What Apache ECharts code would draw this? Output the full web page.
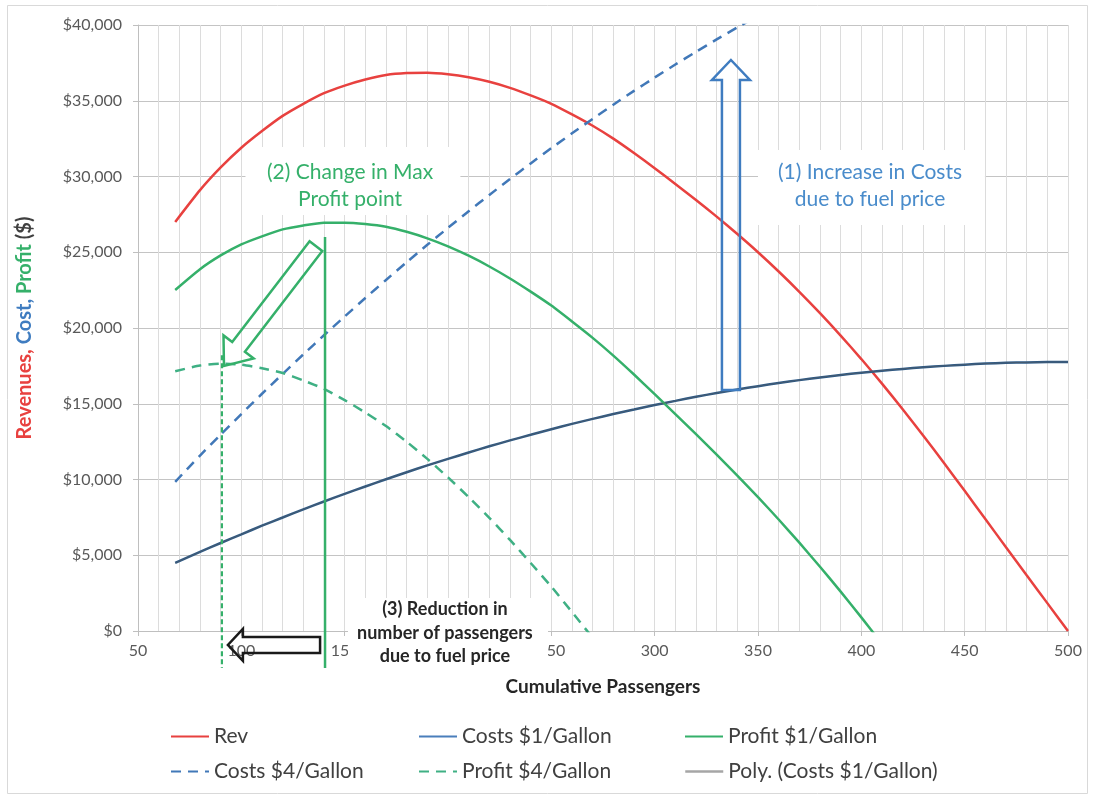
<!DOCTYPE html>
<html><head><meta charset="utf-8">
<script src="https://cdn.jsdelivr.net/npm/echarts@6/dist/echarts.min.js"></script>
<style>html,body{margin:0;padding:0;background:#fff}#c{width:1094px;height:799px}</style>
</head><body><div id="c"></div>
<script>
// ---- data ----
const passengers = [68, 80, 90, 100, 110, 120, 130, 140, 150, 160, 170, 180, 190, 200, 210, 220, 230, 240, 250, 260,
  270, 280, 290, 300, 310, 320, 330, 340, 350, 360, 370, 380, 390, 400, 410, 420, 430, 440, 450, 460, 470, 480, 490, 500];
const revenue = [27000, 29100, 30600, 31900, 33000, 34000, 34800, 35500, 36000, 36400, 36700, 36830, 36850, 36750, 36550, 36250, 35850, 35350, 34800, 34100,
  33350, 32500, 31550, 30550, 29500, 28450, 27350, 26200, 25000, 23730, 22390, 20980, 19500, 17950, 16330, 14640, 12890, 11090, 9250, 7390, 5530, 3680, 1840, 0];
const costs1 = [4490, 5220, 5810, 6380, 6950, 7490, 8030, 8550, 9050, 9540, 10020, 10480, 10930, 11360, 11780, 12190, 12580, 12950, 13320, 13670,
  14000, 14320, 14620, 14920, 15190, 15460, 15710, 15940, 16160, 16370, 16560, 16740, 16900, 17050, 17180, 17300, 17410, 17500, 17580, 17650, 17700, 17730, 17750, 17760];
const profit1 = [22510, 23880, 24790, 25520, 26050, 26510, 26770, 26950, 26950, 26860, 26680, 26350, 25920, 25390, 24770, 24060, 23270, 22400, 21480, 20430,
  19350, 18180, 16930, 15630, 14310, 12990, 11640, 10260, 8840, 7360, 5830, 4240, 2600, 900, -850, null, null, null, null, null, null, null, null, null];
const costs4 = [9850, 11580, 12960, 14320, 15660, 16970, 18260, 19520, 20760, 21980, 23170, 24340, 25490, 26610, 27710, 28780, 29840, 30860, 31870, 32850,
  33800, 34740, 35650, 36530, 37390, 38230, 39050, 39840, 40600, null, null, null, null, null, null, null, null, null, null, null, null, null, null, null];
const profit4 = [17150, 17520, 17640, 17580, 17340, 17030, 16540, 15980, 15240, 14420, 13530, 12490, 11360, 10140, 8840, 7470, 6010, 4490, 2930, 1250,
  -450, null, null, null, null, null, null, null, null, null, null, null, null, null, null, null, null, null, null, null, null, null, null, null];
const polyCosts1 = costs1; // trendline coincides with the Costs $1 series

const xMin = 50, xMax = 500, xStep = 50;
const yMin = 0, yMax = 40000, yStep = 5000;

// annotation anchors (data units)
const maxProfit1Line = { x: 140.5, top: 26000, bottom: -2450 };
const maxProfit4Line = { x: 90.6, top: 18200, bottom: -2450 };
const greenArrow = { from: [136.1, 25410], to: [91.6, 17490] };
const blueArrow = { from: [336.9, 15910], to: [336.9, 37690] };
const blackArrow = { from: [138.1, -920], to: [93.5, -920] };
const notes = [
  { text: '(2) Change in Max\nProfit point', at: [152.6, 29370], box: [[102, 31950], [206, 27460]], color: '#35b06a', size: 21, weight: 'normal', lh: 27 },
  { text: '(1) Increase in Costs\ndue to fuel price', at: [404.2, 29370], box: [[350, 31750], [459.8, 26800]], color: '#4a8ccb', size: 21, weight: 'normal', lh: 27 },
  { text: '(3) Reduction in\nnumber of passengers\ndue to fuel price', at: [198.5, -130], box: [[151.6, 2180], [248.4, -2570]], color: '#262626', size: 18, weight: 'bold', lh: 23.5 }
];

const FONT = 'Lato';
const pair = (xs, ys) => xs.map((x, i) => [x, ys[i]]).filter(p => p[1] !== null);

const chart = echarts.init(document.getElementById('c'), null, { renderer: 'canvas' });

function lineSeries(name, ys, color, width, dashed, z) {
  return {
    name, type: 'line', data: pair(passengers, ys), symbol: 'none', showSymbol: false, smooth: 0.2, clip: true, z,
    lineStyle: { color, width, type: dashed ? [10, 7] : 'solid' }, itemStyle: { color }
  };
}

function legendAt(name, left, top, extra) {
  return {
    data: [Object.assign({ name }, extra || {})], left, top, padding: 0, itemWidth: 38, itemHeight: 14, itemGap: 0,
    selectedMode: false, itemStyle: { color: 'rgba(0,0,0,0)', borderWidth: 0, opacity: 0 },
    textStyle: { fontFamily: FONT, fontSize: 21, color: '#404040' }
  };
}

chart.setOption({
  animation: false,
  backgroundColor: '#ffffff',
  grid: { left: 138, right: 26, top: 25, bottom: 168, containLabel: false },
  xAxis: {
    type: 'value', min: xMin, max: xMax, interval: xStep,
    name: 'Cumulative Passengers', nameLocation: 'middle', nameGap: 46,
    nameTextStyle: { fontFamily: FONT, fontSize: 19, fontWeight: 'bold', color: '#262626' },
    axisLine: { show: true, lineStyle: { color: '#bfbfbf', width: 1 } },
    axisTick: { show: true, length: 5, lineStyle: { color: '#bfbfbf' } },
    axisLabel: { fontFamily: FONT, fontSize: 16, color: '#595959', margin: 12 },
    splitLine: { show: true, lineStyle: { color: '#dcdcdc', width: 1 } },
    minorTick: { show: false, splitNumber: 5 },
    minorSplitLine: { show: true, lineStyle: { color: '#dcdcdc', width: 1 } }
  },
  yAxis: {
    type: 'value', min: yMin, max: yMax, interval: yStep,
    name: '{r|Revenues,} {b|Cost,} {g|Profit} {k|($)}', nameLocation: 'middle', nameGap: 103, nameRotate: 90,
    nameTextStyle: {
      fontFamily: FONT, fontSize: 20, fontWeight: 'bold',
      rich: {
        r: { color: '#e8413f', fontFamily: FONT, fontSize: 20, fontWeight: 'bold' },
        b: { color: '#3f7cc0', fontFamily: FONT, fontSize: 20, fontWeight: 'bold' },
        g: { color: '#35b06a', fontFamily: FONT, fontSize: 20, fontWeight: 'bold' },
        k: { color: '#404040', fontFamily: FONT, fontSize: 20, fontWeight: 'bold' }
      }
    },
    axisLine: { show: true, lineStyle: { color: '#bfbfbf', width: 1 } },
    axisTick: { show: true, length: 5, lineStyle: { color: '#bfbfbf' } },
    axisLabel: { fontFamily: FONT, fontSize: 16, color: '#595959', margin: 16, formatter: v => '$' + v.toLocaleString('en-US') },
    splitLine: { show: true, lineStyle: { color: '#c4c4c4', width: 1 } }
  },
  legend: [
    legendAt('Rev', 170, 726),
    legendAt('Costs $1/Gallon', 418, 726, { lineStyle: { color: '#4a7ebb' } }),
    legendAt('Profit $1/Gallon', 684, 726),
    legendAt('Costs $4/Gallon', 170, 761),
    legendAt('Profit $4/Gallon', 418, 761),
    legendAt('Poly. (Costs $1/Gallon)', 684, 761, { lineStyle: { color: '#a6a6a6', width: 2.5 } })
  ],
  series: [
    lineSeries('Rev', revenue, '#e8413f', 2.5, false, 3),
    lineSeries('Costs $1/Gallon', costs1, '#2e5b88', 2.5, false, 3),
    lineSeries('Profit $1/Gallon', profit1, '#35b06a', 2.5, false, 3),
    lineSeries('Costs $4/Gallon', costs4, '#4178b8', 2.5, true, 3),
    lineSeries('Profit $4/Gallon', profit4, '#3fb084', 2.5, true, 3),
    Object.assign(lineSeries('Poly. (Costs $1/Gallon)', polyCosts1, '#7f7f7f', 1, false, 4), { lineStyle: { color: 'rgba(90,90,90,0.55)', width: 1 } })
  ]
});

// ---- annotations, positioned through the chart's own scales ----
const px = (p) => chart.convertToPixel({ gridIndex: 0 }, p);

function blockArrow(fromD, toD, s, h, L) {
  const T = px(fromD), P = px(toD);
  const dx = P[0] - T[0], dy = P[1] - T[1], len = Math.hypot(dx, dy);
  const ux = dx / len, uy = dy / len, nx = -uy, ny = ux;
  const B = [P[0] - ux * L, P[1] - uy * L];
  return [
    [T[0] + nx * s, T[1] + ny * s], [B[0] + nx * s, B[1] + ny * s], [B[0] + nx * h, B[1] + ny * h],
    [P[0], P[1]],
    [B[0] - nx * h, B[1] - ny * h], [B[0] - nx * s, B[1] - ny * s], [T[0] - nx * s, T[1] - ny * s]
  ];
}

const g = [];
g.push({ type: 'rect', shape: { x: 7.5, y: 5.5, width: 1080, height: 788 }, style: { fill: 'none', stroke: '#d9d9d9', lineWidth: 1 }, z: 0, silent: true });
notes.forEach(n => {
  const a = px(n.box[0]), b = px(n.box[1]);
  g.push({ type: 'rect', shape: { x: a[0], y: a[1], width: b[0] - a[0], height: b[1] - a[1] }, style: { fill: '#ffffff' }, z: 1, silent: true });
});
notes.forEach(n => {
  const c = px(n.at);
  g.push({ type: 'text', x: c[0], y: c[1], z: 20, silent: true,
    style: { text: n.text, fill: n.color, font: n.weight + ' ' + n.size + 'px ' + FONT, align: 'center', verticalAlign: 'middle', lineHeight: n.lh } });
});
[[maxProfit1Line, 'solid', 2.5], [maxProfit4Line, [5, 3], 2.2]].forEach(([m, t, w]) => {
  const a = px([m.x, m.top]), b = px([m.x, m.bottom]);
  g.push({ type: 'line', shape: { x1: a[0], y1: a[1], x2: b[0], y2: b[1] }, style: { stroke: '#35b06a', lineWidth: w, lineDash: t === 'solid' ? null : t }, z: 15, silent: true });
});
g.push({ type: 'polygon', shape: { points: blockArrow(greenArrow.from, greenArrow.to, 8, 19, 24) }, style: { fill: 'none', stroke: '#35b06a', lineWidth: 2.5, lineJoin: 'miter' }, z: 16, silent: true });
g.push({ type: 'polygon', shape: { points: blockArrow(blueArrow.from, blueArrow.to, 9, 19, 20) }, style: { fill: 'none', stroke: '#3f7cc0', lineWidth: 2.5, lineJoin: 'miter' }, z: 16, silent: true });
g.push({ type: 'polygon', shape: { points: blockArrow(blackArrow.from, blackArrow.to, 8, 16, 15) }, style: { fill: 'none', stroke: '#1a1a1a', lineWidth: 2.5, lineJoin: 'miter' }, z: 16, silent: true });

chart.setOption({ graphic: g });
</script></body></html>
